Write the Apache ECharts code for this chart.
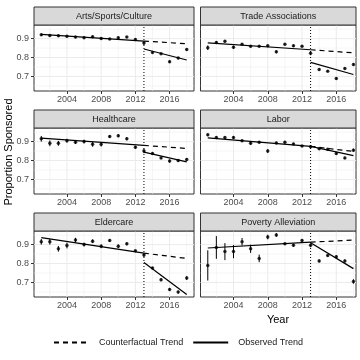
<!DOCTYPE html>
<html><head><meta charset="utf-8">
<script src="https://cdn.jsdelivr.net/npm/echarts@6/dist/echarts.min.js"></script>
<style>html,body{margin:0;padding:0;background:#fff}#c{width:360px;height:360px}</style>
</head><body><div id="c"></div>
<script>
// ---------- data ----------
const years = [2001,2002,2003,2004,2005,2006,2007,2008,2009,2010,2011,2012,2013,2014,2015,2016,2017,2018];
const panelNames = ['Arts/Sports/Culture','Trade Associations','Healthcare','Labor','Eldercare','Poverty Alleviation'];

const artsVals = [0.920,0.916,0.915,0.912,0.908,0.905,0.910,0.900,0.898,0.905,0.908,0.895,0.877,0.827,0.820,0.778,0.797,0.843];
const artsErr  = [0.006,0.006,0.006,0.006,0.006,0.006,0.006,0.006,0.005,0.006,0.005,0.006,0.010,0.005,0.005,0.007,0.006,0.007];
const tradeVals = [0.852,0.880,0.886,0.854,0.870,0.859,0.859,0.862,0.830,0.870,0.862,0.860,0.822,0.737,0.728,0.689,0.742,0.763];
const tradeErr  = [0.012,0.007,0.007,0.008,0.006,0.006,0.005,0.006,0.008,0.006,0.006,0.006,0.010,0.006,0.005,0.007,0.006,0.007];
const healthVals = [0.915,0.891,0.891,0.905,0.897,0.900,0.886,0.886,0.927,0.931,0.915,0.870,0.851,0.837,0.814,0.797,0.800,0.805];
const healthErr  = [0.015,0.015,0.013,0.010,0.010,0.010,0.013,0.012,0.008,0.008,0.008,0.008,0.012,0.006,0.006,0.008,0.008,0.008];
const laborVals = [0.936,0.922,0.922,0.922,0.905,0.891,0.897,0.850,0.893,0.897,0.888,0.877,0.873,0.862,0.859,0.837,0.814,0.855];
const laborErr  = [0.007,0.006,0.006,0.007,0.006,0.008,0.006,0.010,0.006,0.007,0.006,0.005,0.006,0.005,0.005,0.007,0.006,0.008];
const elderVals = [0.915,0.915,0.878,0.895,0.924,0.900,0.918,0.891,0.922,0.891,0.904,0.867,0.845,0.776,0.714,0.663,0.649,0.723];
const elderErr  = [0.015,0.015,0.015,0.015,0.012,0.010,0.010,0.010,0.008,0.010,0.008,0.005,0.010,0.005,0.008,0.008,0.008,0.010];
const povVals = [0.790,0.885,0.863,0.863,0.915,0.878,0.827,0.940,0.951,0.904,0.896,0.922,0.896,0.814,0.842,0.836,0.814,0.705];
const povErr  = [0.080,0.060,0.045,0.035,0.020,0.022,0.020,0.012,0.010,0.006,0.008,0.008,0.010,0.008,0.005,0.008,0.008,0.012];

// trend endpoints per panel: observed pre (2001 -> 2013), observed post (2013 -> 2018), counterfactual end (2018)
const obsPreStart  = [0.922,0.877,0.918,0.920,0.937,0.882];
const obsPreEnd    = [0.887,0.841,0.880,0.875,0.855,0.913];
const obsPostStart = [0.845,0.774,0.844,0.875,0.805,0.910];
const obsPostEnd   = [0.787,0.710,0.793,0.826,0.636,0.773];
const cfEnd        = [0.873,0.825,0.864,0.848,0.827,0.924];

const breakYear = 2013;
const xTicks = [2004,2008,2012,2016];
const xMinor = [2002,2006,2010,2014,2018];
const yTicks = [0.7,0.8,0.9];
const yMinor = [0.65,0.75,0.85,0.95];
const legendNames = ['Counterfactual Trend','Observed Trend'];

const allVals = [artsVals,tradeVals,healthVals,laborVals,elderVals,povVals];
const allErr  = [artsErr,tradeErr,healthErr,laborErr,elderErr,povErr];

// ---------- layout ----------
const FONT = 'Liberation Sans, Arial, sans-serif';
const Y_MIN = 0.623, Y_MAX = 0.972;
const colLeft = [34, 200.5], colWidth = [160, 155.5], colXMax = [2018.85, 2018.3];
const X_MIN = 2000.15;
const rowTop = [25, 128, 231], PH = 66, STRIP = 18;

const grids = [], xAxes = [], yAxes = [], series = [], graphics = [];

function gridRender(params, api){
  const cs = params.coordSys;
  const p = api.coord([api.value(0), api.value(1)]);
  const vertical = api.value(2) === 0;
  const major = api.value(3) === 1;
  const shape = vertical ? {x1:p[0],y1:cs.y,x2:p[0],y2:cs.y+cs.height}
                         : {x1:cs.x,y1:p[1],x2:cs.x+cs.width,y2:p[1]};
  return {type:'line', shape, style:{stroke:'#EBEBEB', lineWidth: major?1:0.5}};
}
function errRender(params, api){
  const x = api.value(0);
  const p1 = api.coord([x, api.value(1)]), p2 = api.coord([x, api.value(2)]);
  return {type:'line', shape:{x1:p1[0],y1:p1[1],x2:p2[0],y2:p2[1]}, style:{stroke:'#000', lineWidth:1}};
}

for (let i = 0; i < 6; i++){
  const col = i % 2, row = Math.floor(i / 2);
  const xMax = colXMax[col];
  grids.push({left: colLeft[col], top: rowTop[row], width: colWidth[col], height: PH,
    show: true, borderColor: '#333', borderWidth: 1, backgroundColor: '#fff', containLabel: false});
  xAxes.push({type:'value', gridIndex:i, min:X_MIN, max:xMax,
    axisLine:{show:false}, splitLine:{show:false},
    axisTick:{show:true, customValues:xTicks, length:3, lineStyle:{color:'#333', width:1}},
    axisLabel:{show:true, customValues:xTicks, margin:4, fontSize:9, color:'#4D4D4D', fontFamily:FONT,
      formatter: v => String(v)}});
  yAxes.push({type:'value', gridIndex:i, min:Y_MIN, max:Y_MAX,
    axisLine:{show:false}, splitLine:{show:false},
    axisTick:{show: col===0, customValues:yTicks, length:3, lineStyle:{color:'#333', width:1}},
    axisLabel:{show: col===0, customValues:yTicks, margin:5, fontSize:9, color:'#4D4D4D', fontFamily:FONT,
      formatter: v => v.toFixed(1)}});

  const xMid = (X_MIN + xMax) / 2, yMid = (Y_MIN + Y_MAX) / 2;
  const gridData = [];
  yMinor.forEach(v => gridData.push([xMid, v, 1, 0]));
  xMinor.filter(v => v < xMax).forEach(v => gridData.push([v, yMid, 0, 0]));
  yTicks.forEach(v => gridData.push([xMid, v, 1, 1]));
  xTicks.forEach(v => gridData.push([v, yMid, 0, 1]));
  series.push({type:'custom', xAxisIndex:i, yAxisIndex:i, renderItem:gridRender, data:gridData,
    encode:{x:0, y:1}, z:0, silent:true, clip:true});

  // dotted break line
  series.push({type:'line', xAxisIndex:i, yAxisIndex:i, data:[[breakYear, Y_MIN],[breakYear, Y_MAX]],
    symbol:'none', silent:true, z:1, lineStyle:{color:'#000', width:1, type:[1,2]}});

  // error bars
  const vals = allVals[i], errs = allErr[i];
  series.push({type:'custom', xAxisIndex:i, yAxisIndex:i, renderItem:errRender,
    data: years.map((y, j) => [y, vals[j] - errs[j], vals[j] + errs[j]]),
    encode:{x:0, y:[1,2]}, z:3, silent:true});
  // points
  series.push({type:'scatter', xAxisIndex:i, yAxisIndex:i, data: years.map((y, j) => [y, vals[j]]),
    symbol:'circle', symbolSize:3.5, itemStyle:{color:'#000'}, z:4, silent:true});

  // counterfactual trend
  series.push({type:'line', name:legendNames[0], xAxisIndex:i, yAxisIndex:i,
    data:[[breakYear, obsPreEnd[i]],[years[years.length-1], cfEnd[i]]],
    symbol:'none', z:5, silent:true, itemStyle:{color:'#000'},
    lineStyle:{color:'#000', width:1.2, type:[5,4]}});
  // observed trends
  series.push({type:'line', name:legendNames[1], xAxisIndex:i, yAxisIndex:i,
    data:[[years[0], obsPreStart[i]],[breakYear, obsPreEnd[i]]],
    symbol:'none', z:5, silent:true, itemStyle:{color:'#000'},
    lineStyle:{color:'#000', width:1.2, type:'solid'}});
  series.push({type:'line', name:legendNames[1], xAxisIndex:i, yAxisIndex:i,
    data:[[breakYear, obsPostStart[i]],[years[years.length-1], obsPostEnd[i]]],
    symbol:'none', z:5, silent:true, itemStyle:{color:'#000'},
    lineStyle:{color:'#000', width:1.2, type:'solid'}});

  // strip
  const sx = colLeft[col], sy = rowTop[row] - STRIP;
  graphics.push({type:'rect', shape:{x:sx, y:sy, width:colWidth[col], height:STRIP},
    style:{fill:'#D9D9D9', stroke:'#333', lineWidth:1}, z:10});
  graphics.push({type:'text', x: sx + colWidth[col]/2, y: sy + STRIP/2 + 0.5, z:11,
    style:{text:panelNames[i], fontSize:9, fill:'#1A1A1A', fontFamily:FONT, align:'center', verticalAlign:'middle'}});
}

graphics.push({type:'text', x:9, y:152, rotation:Math.PI/2, z:11,
  style:{text:'Proportion Sponsored', fontSize:11, fill:'#000', fontFamily:FONT, align:'center', verticalAlign:'middle'}});
graphics.push({type:'text', x:278, y:320, z:11,
  style:{text:'Year', fontSize:11, fill:'#000', fontFamily:FONT, align:'center', verticalAlign:'middle'}});

const chart = echarts.init(document.getElementById('c'), null, {renderer:'canvas', width:360, height:360});
chart.setOption({
  animation:false,
  backgroundColor:'#fff',
  grid: grids, xAxis: xAxes, yAxis: yAxes, series: series,
  legend:{data:legendNames, left:53, top:337, padding:0, itemWidth:35, itemHeight:14, itemGap:9,
    itemStyle:{opacity:0},
    textStyle:{fontSize:9, color:'#1A1A1A', fontFamily:FONT, padding:[0,0,0,5]}, selectedMode:false},
  graphic: graphics
});
</script></body></html>
